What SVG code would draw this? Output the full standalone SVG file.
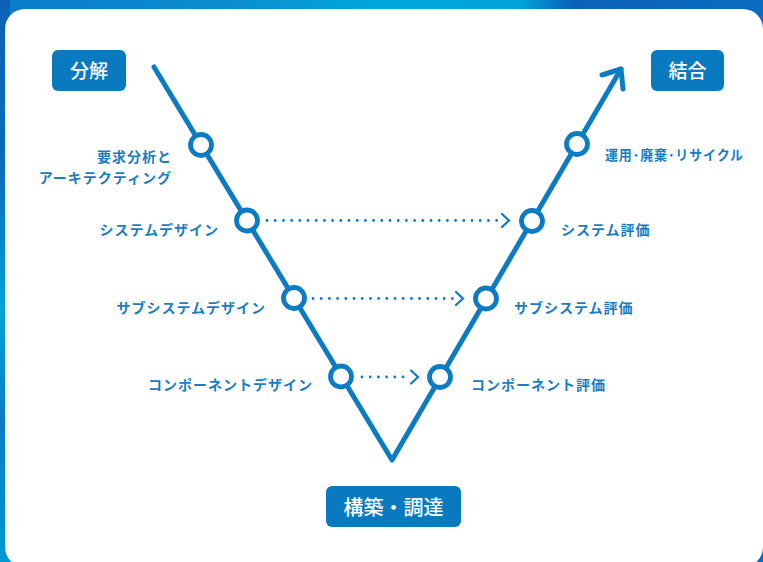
<svg xmlns="http://www.w3.org/2000/svg" width="763" height="562" viewBox="0 0 763 562">
  <defs>
    <linearGradient id="bg" x1="0" y1="0" x2="1" y2="0">
      <stop offset="0" stop-color="#0a7cc6"/>
      <stop offset="0.3" stop-color="#0a8ecf"/>
      <stop offset="0.5" stop-color="#00a8dc"/>
      <stop offset="0.68" stop-color="#02a4da"/>
      <stop offset="0.75" stop-color="#0a62b8"/>
      <stop offset="1" stop-color="#0a6cc0"/>
    </linearGradient>
    <linearGradient id="bgl" x1="0" y1="0" x2="0" y2="1">
      <stop offset="0" stop-color="#0a62b6"/>
      <stop offset="0.3" stop-color="#0a6cbc"/>
      <stop offset="0.55" stop-color="#04a2d8"/>
      <stop offset="0.75" stop-color="#0a7cc6"/>
      <stop offset="1" stop-color="#0098d4"/>
    </linearGradient>
    <style>
      .v { fill: none; stroke: #0b7bc2; stroke-width: 5; stroke-linecap: round; stroke-linejoin: round; }
      .node circle { fill: #ffffff; stroke: #0b7bc2; stroke-width: 4.8; }
      .dots { fill: none; stroke: #0b7bc2; stroke-width: 2.8; stroke-linecap: round; stroke-dasharray: 0 8.2; }
      .chev { fill: none; stroke: #0b7bc2; stroke-width: 2.2; stroke-linecap: round; stroke-linejoin: miter; }
      .lbl { font-family: "Noto Sans CJK JP", "Noto Sans", sans-serif; font-weight: 700; font-size: 14px; fill: #1a7dc1; letter-spacing: 1px; }
      .box rect { fill: #0a7ac0; }
      .box text { font-family: "Noto Sans CJK JP", "Noto Sans", sans-serif; font-weight: 500; fill: #ffffff; text-anchor: middle; }
    </style>
  </defs>

  <rect x="0" y="0" width="763" height="562" fill="url(#bg)"/>
  <rect x="0" y="0" width="10" height="562" fill="url(#bgl)"/>
  <rect x="5" y="9" width="758" height="558" rx="20" ry="20" fill="#ffffff"/>

  <g id="connectors">
    <polyline class="v" points="154,67 392,460 621,69"/>
    <polyline class="v" points="602,75 621,69 623,89"/>
    <line class="dots" x1="267" y1="220.5" x2="500" y2="220.5"/>
    <polyline class="chev" points="502,214 509,220.5 502,227"/>
    <line class="dots" x1="313" y1="298.5" x2="455" y2="298.5"/>
    <polyline class="chev" points="456,292 463,298.5 456,305"/>
    <line class="dots" x1="362" y1="377" x2="410" y2="377"/>
    <polyline class="chev" points="411,370.5 418,377 411,383.5"/>
  </g>

  <g id="box-bunkai" class="box">
    <rect x="52" y="50" width="74" height="41" rx="6"/>
    <text x="89" y="78" font-size="19">分解</text>
  </g>
  <g id="box-ketsugo" class="box">
    <rect x="651" y="50" width="73" height="41" rx="6"/>
    <text x="687.5" y="78" font-size="19">結合</text>
  </g>
  <g id="box-kochiku" class="box">
    <rect x="326" y="486" width="135" height="41" rx="6"/>
    <text x="393.5" y="515" font-size="20">構築・調達</text>
  </g>

  <g id="node-req" class="node">
    <circle cx="201" cy="145" r="10.5"/>
    <text class="lbl" x="172" y="162" text-anchor="end">要求分析と</text>
    <text class="lbl" x="172" y="183" text-anchor="end">アーキテクティング</text>
  </g>
  <g id="node-sysdesign" class="node">
    <circle cx="247" cy="220.5" r="10.5"/>
    <text class="lbl" x="219" y="235" text-anchor="end">システムデザイン</text>
  </g>
  <g id="node-subdesign" class="node">
    <circle cx="294" cy="298" r="10.5"/>
    <text class="lbl" x="266" y="313" text-anchor="end">サブシステムデザイン</text>
  </g>
  <g id="node-compdesign" class="node">
    <circle cx="341" cy="376.5" r="10.5"/>
    <text class="lbl" x="313" y="390" text-anchor="end">コンポーネントデザイン</text>
  </g>

  <g id="node-ops" class="node">
    <circle cx="577" cy="144" r="10.5"/>
    <text class="lbl" x="605" y="160" textLength="139" lengthAdjust="spacingAndGlyphs">運用･廃棄･リサイクル</text>
  </g>
  <g id="node-syseval" class="node">
    <circle cx="532" cy="221" r="10.5"/>
    <text class="lbl" x="561" y="235">システム評価</text>
  </g>
  <g id="node-subeval" class="node">
    <circle cx="486" cy="298.5" r="10.5"/>
    <text class="lbl" x="514" y="313">サブシステム評価</text>
  </g>
  <g id="node-compeval" class="node">
    <circle cx="440" cy="377" r="10.5"/>
    <text class="lbl" x="471" y="390">コンポーネント評価</text>
  </g>
</svg>
